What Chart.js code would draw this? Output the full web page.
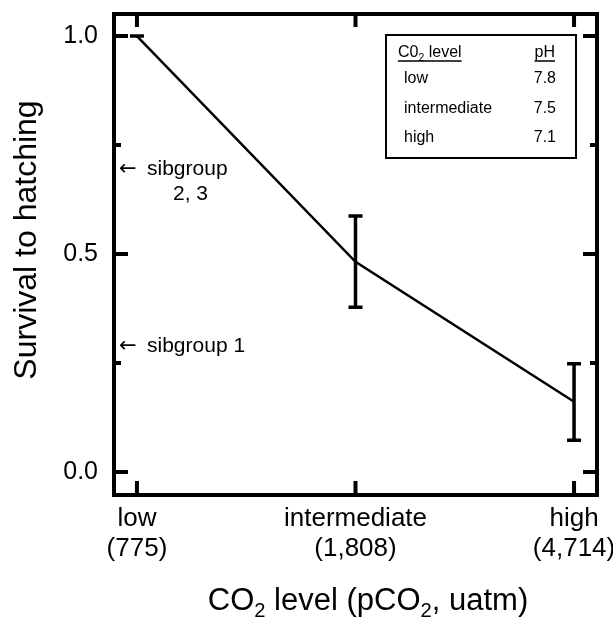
<!DOCTYPE html>
<html>
<head>
<meta charset="utf-8">
<script src="https://cdn.jsdelivr.net/npm/chart.js@4"></script>
<style>
  body { margin: 0; background: #fff; }
  #wrap { width: 613px; height: 621px; }
</style>
</head>
<body>
<div id="wrap"><canvas id="survie" width="613" height="621"></canvas></div>
<script>
// Donnees
const categories = ['low', 'intermediate', 'high'];
const pco2Labels = ['(775)', '(1,808)', '(4,714)'];
const survival = [1.0, 0.482, 0.161];
const errLow = [1.0, 0.378, 0.073];
const errHigh = [1.0, 0.587, 0.248];
const yTicks = [0, 0.5, 1.0];
const yMinorTicks = [0.25, 0.75];

// Encart pH
const phLevels = ['low', 'intermediate', 'high'];
const phValues = ['7.8', '7.5', '7.1'];

const FONT = '"Liberation Sans", Arial, sans-serif';

// texte avec indice (CO2 etc.)
function drawRich(ctx, parts, x, y, size, align) {
    let total = 0;
    parts.forEach(p => {
        ctx.font = (p.sub ? size * 0.65 : size) + 'px ' + FONT;
        p.w = ctx.measureText(p.t).width;
        total += p.w;
    });
    let cx = align === 'center' ? x - total / 2 : x;
    ctx.textAlign = 'left';
    ctx.textBaseline = 'alphabetic';
    parts.forEach(p => {
        ctx.font = (p.sub ? size * 0.65 : size) + 'px ' + FONT;
        ctx.fillText(p.t, cx, p.sub ? y + size * 0.22 : y);
        cx += p.w;
    });
    return total;
}

// fleche + texte
function note(ctx, txt, x, y) {
    ctx.font = '21px "DejaVu Sans", sans-serif';
    ctx.fillText('\u2190', x, y);
    ctx.font = '21px ' + FONT;
    ctx.fillText(txt, x + 28, y);
}

const decor = {
    id: 'decor',
    afterDatasetsDraw(chart) {
        const ctx = chart.ctx;
        const xs = chart.scales.x, ys = chart.scales.y;
        ctx.save();
        ctx.strokeStyle = '#000';
        ctx.lineWidth = 3.5;
        // barres d'erreur
        survival.forEach((v, i) => {
            const x = xs.getPixelForValue(i);
            const y1 = ys.getPixelForValue(errLow[i]);
            const y2 = ys.getPixelForValue(errHigh[i]);
            ctx.beginPath();
            ctx.moveTo(x, y1); ctx.lineTo(x, y2);
            ctx.moveTo(x - 7, y1); ctx.lineTo(x + 7, y1);
            ctx.moveTo(x - 7, y2); ctx.lineTo(x + 7, y2);
            ctx.stroke();
        });
        ctx.restore();
    },
    afterDraw(chart) {
        const ctx = chart.ctx;
        const a = chart.chartArea;
        const xs = chart.scales.x, ys = chart.scales.y;
        ctx.save();
        ctx.strokeStyle = '#000';
        ctx.fillStyle = '#000';
        ctx.lineWidth = 4;
        ctx.strokeRect(a.left, a.top, a.right - a.left, a.bottom - a.top);

        // graduations vers l'interieur
        ctx.beginPath();
        yTicks.forEach(v => {
            const y = ys.getPixelForValue(v);
            ctx.moveTo(a.left, y); ctx.lineTo(a.left + 14, y);
            ctx.moveTo(a.right, y); ctx.lineTo(a.right - 14, y);
        });
        yMinorTicks.forEach(v => {
            const y = ys.getPixelForValue(v);
            ctx.moveTo(a.left, y); ctx.lineTo(a.left + 7, y);
            ctx.moveTo(a.right, y); ctx.lineTo(a.right - 7, y);
        });
        categories.forEach((c, i) => {
            const x = xs.getPixelForValue(i);
            ctx.moveTo(x, a.top); ctx.lineTo(x, a.top + 13);
            ctx.moveTo(x, a.bottom); ctx.lineTo(x, a.bottom - 14);
        });
        ctx.stroke();

        // titres des axes
        ctx.save();
        ctx.translate(27, 240);
        ctx.rotate(-Math.PI / 2);
        ctx.font = '32px ' + FONT;
        ctx.textAlign = 'center';
        ctx.textBaseline = 'middle';
        ctx.fillText('Survival to hatching', 0, 0);
        ctx.restore();

        drawRich(ctx, [
            {t: 'CO'}, {t: '2', sub: true}, {t: ' level (pCO'}, {t: '2', sub: true}, {t: ', uatm)'}
        ], 368, 610, 31, 'center');

        // annotations sibgroup
        ctx.textAlign = 'left';
        ctx.textBaseline = 'alphabetic';
        note(ctx, 'sibgroup', 119, ys.getPixelForValue(0.681));
        ctx.fillText('2, 3', 173, ys.getPixelForValue(0.624));
        note(ctx, 'sibgroup 1', 119, ys.getPixelForValue(0.275));

        // encart pH
        ctx.lineWidth = 2;
        ctx.strokeRect(386, 35, 190, 123);
        ctx.lineWidth = 1.3;
        const w = drawRich(ctx, [{t: 'C0'}, {t: '2', sub: true}, {t: ' level'}], 398, 57, 16, 'left');
        ctx.beginPath();
        ctx.moveTo(398, 61); ctx.lineTo(398 + w, 61);
        ctx.font = '16px ' + FONT;
        ctx.textAlign = 'right';
        ctx.fillText('pH', 555, 57);
        const pw = ctx.measureText('pH').width;
        ctx.moveTo(555 - pw, 61); ctx.lineTo(555, 61);
        ctx.stroke();
        phLevels.forEach((lvl, i) => {
            const y = 83 + i * 29.5;
            ctx.textAlign = 'left';
            ctx.fillText(lvl, 404, y);
            ctx.textAlign = 'right';
            ctx.fillText(phValues[i], 556, y);
        });
        ctx.restore();
    }
};

new Chart(document.getElementById('survie'), {
    type: 'line',
    data: {
        datasets: [{
            data: survival.map((v, i) => ({x: i, y: v})),
            borderColor: '#000',
            borderWidth: 2.5,
            pointRadius: 0,
            tension: 0,
            fill: false
        }]
    },
    options: {
        responsive: false,
        animation: false,
        devicePixelRatio: 1,
        layout: { padding: { top: 14, right: 16, left: 0, bottom: 0 } },
        plugins: { legend: { display: false }, tooltip: { enabled: false } },
        scales: {
            x: {
                type: 'linear',
                min: -0.105,
                max: 2.105,
                grid: { display: false, drawTicks: false },
                border: { display: false },
                afterFit: s => { s.height = 126; s.paddingLeft = 0; s.paddingRight = 0; },
                afterBuildTicks: s => { s.ticks = categories.map((c, i) => ({value: i})); },
                ticks: {
                    autoSkip: false,
                    maxRotation: 0,
                    padding: 9,
                    color: '#000',
                    font: { family: FONT, size: 26, lineHeight: 1.15 },
                    callback: v => [categories[v], pco2Labels[v]]
                }
            },
            y: {
                min: -0.0528,
                max: 1.0505,
                grid: { display: false, drawTicks: false },
                border: { display: false },
                afterFit: s => { s.width = 114; s.paddingTop = 0; s.paddingBottom = 0; },
                afterBuildTicks: s => { s.ticks = yTicks.map(v => ({value: v})); },
                ticks: {
                    padding: 16,
                    color: '#000',
                    font: { family: FONT, size: 25 },
                    callback: v => v.toFixed(1)
                }
            }
        }
    },
    plugins: [decor]
});
</script>
</body>
</html>
